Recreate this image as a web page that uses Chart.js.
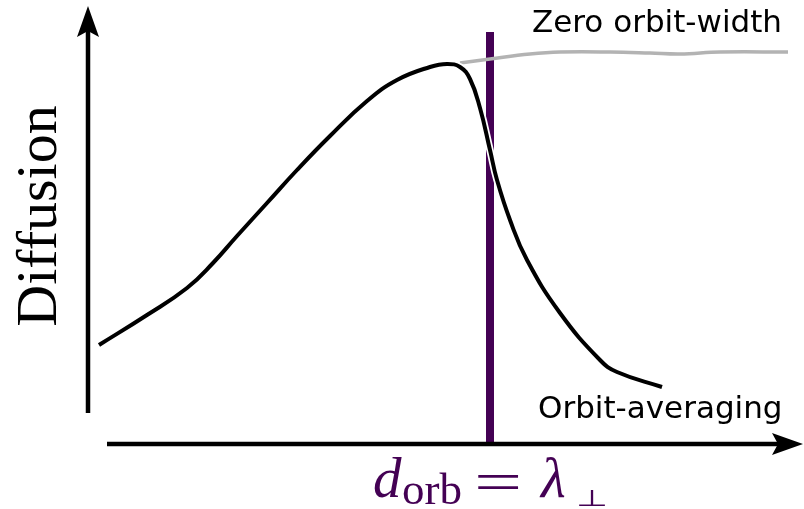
<!DOCTYPE html>
<html>
<head>
<meta charset="utf-8">
<style>
  html, body { margin: 0; padding: 0; background: #ffffff; }
  #wrap { width: 804px; height: 509px; position: relative; }
</style>
<script src="https://cdn.jsdelivr.net/npm/chart.js@4/dist/chart.umd.min.js"></script>
</head>
<body>
<div id="wrap"><canvas id="c" width="804" height="509"></canvas></div>
<script>
// Schematic diffusion curves, arbitrary units (x: orbit width, y: diffusion)
const orbitAvgX = [11, 59, 99, 125, 149, 179, 209, 242, 279, 309, 342, 359, 372, 382, 392, 402, 409, 422, 439, 472, 512, 529, 574];
const orbitAvgY = [98, 128, 155, 180, 207, 240, 273, 307, 342, 363, 376, 379, 376, 364, 335, 293, 263, 223, 183, 130, 83, 71, 56];

const zeroWidthX = [372, 402, 442, 472, 522, 562, 592, 632, 700];
const zeroWidthY = [380, 384, 389, 391, 391, 390, 389, 391, 391];

// Marker where the orbit width equals the perpendicular wavelength
const crossoverX = 402;
const crossoverTop = 411;

const xMax = 712;
const yMax = 437;

const axisLabelY = 'Diffusion';
const curveLabelTop = 'Zero orbit-width';
const curveLabelBottom = 'Orbit-averaging';

const purple = '#440154';

function pts(xs, ys) { return xs.map((x, i) => ({ x: x, y: ys[i] })); }

// Arrowed axes plus annotations
const schematicPlugin = {
  id: 'schematic',
  afterDraw(chart) {
    const ctx = chart.ctx;
    const xs = chart.scales.x, ys = chart.scales.y;
    const x0 = xs.getPixelForValue(0);
    const y0 = ys.getPixelForValue(0);
    ctx.save();
    ctx.fillStyle = '#000';
    ctx.strokeStyle = '#000';
    ctx.lineWidth = 4.5;
    // vertical axis
    const yTip = ys.getPixelForValue(yMax);
    ctx.beginPath();
    ctx.moveTo(x0, y0 - 30);
    ctx.lineTo(x0, yTip + 20);
    ctx.stroke();
    ctx.beginPath();
    ctx.moveTo(x0, yTip);
    ctx.lineTo(x0 - 11, yTip + 31);
    ctx.lineTo(x0, yTip + 25);
    ctx.lineTo(x0 + 11, yTip + 31);
    ctx.closePath();
    ctx.fill();
    // horizontal axis
    const xTip = xs.getPixelForValue(xMax) + 3;
    const yA = y0 + 1;
    ctx.beginPath();
    ctx.moveTo(x0 + 19, yA);
    ctx.lineTo(xTip - 20, yA);
    ctx.stroke();
    ctx.beginPath();
    ctx.moveTo(xTip, yA);
    ctx.lineTo(xTip - 31, yA - 11);
    ctx.lineTo(xTip - 25, yA);
    ctx.lineTo(xTip - 31, yA + 11);
    ctx.closePath();
    ctx.fill();

    // y-axis title
    ctx.save();
    ctx.translate(56, 216);
    ctx.rotate(-Math.PI / 2);
    ctx.font = '58px "Liberation Serif"';
    ctx.textAlign = 'center';
    ctx.textBaseline = 'alphabetic';
    ctx.fillText(axisLabelY, 0, 0);
    ctx.restore();

    // curve labels
    ctx.font = '31px "DejaVu Sans"';
    ctx.textAlign = 'left';
    ctx.textBaseline = 'alphabetic';
    ctx.fillText(curveLabelTop, 532, 32);
    ctx.fillText(curveLabelBottom, 538, 418);

    // d_orb = λ_⊥ below the marker
    ctx.fillStyle = purple;
    const base = 497;
    ctx.font = 'italic 57px "Liberation Serif"';
    ctx.fillText('d', 373, base);
    ctx.font = '45px "Liberation Serif"';
    ctx.fillText('orb', 402, 504);
    ctx.save();
    ctx.translate(474, base + 4);
    ctx.scale(1.5, 1);
    ctx.font = '57px "Liberation Serif"';
    ctx.fillText('=', 0, 0);
    ctx.restore();
    ctx.font = 'italic 57px "Liberation Serif"';
    ctx.fillText('λ', 541, base);
    ctx.save();
    ctx.translate(576, 506);
    ctx.scale(1.6, 1);
    ctx.font = '23px "DejaVu Sans"';
    ctx.fillText('⊥', 0, 0);
    ctx.restore();
    ctx.restore();
  }
};

new Chart(document.getElementById('c'), {
  type: 'line',
  data: {
    datasets: [
      {
        data: [{ x: crossoverX, y: 0 }, { x: crossoverX, y: crossoverTop }],
        borderColor: purple,
        borderWidth: 8,
        pointRadius: 0,
        borderCapStyle: 'butt',
        tension: 0,
        order: 4
      },
      {
        data: pts(zeroWidthX, zeroWidthY),
        borderColor: '#b3b3b3',
        borderWidth: 3.5,
        pointRadius: 0,
        tension: 0.4,
        order: 3
      },
      {
        data: pts(orbitAvgX, orbitAvgY),
        borderColor: '#ffffff',
        borderWidth: 7.5,
        pointRadius: 0,
        tension: 0.45,
        order: 2
      },
      {
        data: pts(orbitAvgX, orbitAvgY),
        borderColor: '#000000',
        borderWidth: 4,
        pointRadius: 0,
        tension: 0.45,
        order: 1
      }
    ]
  },
  options: {
    responsive: false,
    animation: false,
    events: [],
    layout: { padding: { left: 88, right: 4, top: 6, bottom: 66 } },
    plugins: { legend: { display: false }, tooltip: { enabled: false } },
    scales: {
      x: { type: 'linear', min: 0, max: xMax, display: false },
      y: { type: 'linear', min: 0, max: yMax, display: false }
    },
    elements: { line: { fill: false } }
  },
  plugins: [schematicPlugin]
});
</script>
</body>
</html>
